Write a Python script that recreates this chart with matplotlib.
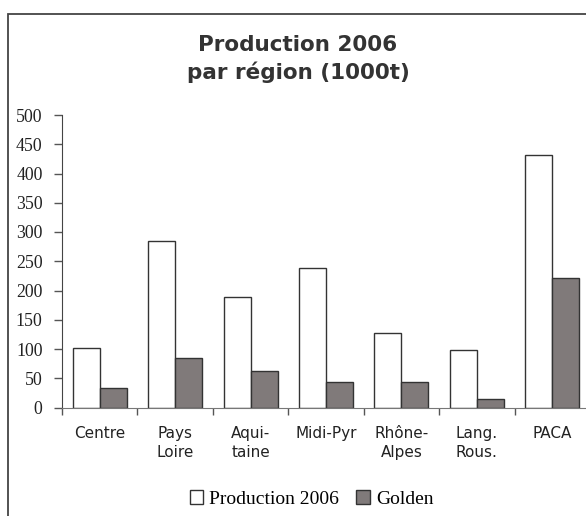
import matplotlib
matplotlib.use("Agg")
import matplotlib.pyplot as plt
import numpy as np
from matplotlib.patches import Rectangle

regions = ["Centre", "Pays\nLoire", "Aqui-\ntaine", "Midi-Pyr", "Rhône-\nAlpes", "Lang.\nRous.", "PACA"]
production = [101, 284, 189, 238, 127, 98, 431]
golden = [34, 84, 63, 44, 44, 15, 221]
yticks = [0, 50, 100, 150, 200, 250, 300, 350, 400, 450, 500]

fig = plt.figure(figsize=(5.86, 5.16), dpi=100)
ax = fig.add_axes([62 / 586, (516 - 407.5) / 516, 528 / 586, 292.5 / 516])

x = np.arange(len(regions))
w = 0.358
ax.bar(x - w / 2, production, w, color="white", edgecolor="#333333", linewidth=1.0, label="Production 2006")
ax.bar(x + w / 2, golden, w, color="#807a7a", edgecolor="#333333", linewidth=1.0, label="Golden")

ax.set_xlim(-0.5, len(regions) - 0.5)
ax.set_ylim(0, 500)
ax.set_yticks(yticks)
ax.set_yticklabels([str(v) for v in yticks], family="Liberation Serif", fontsize=12.8, color="#222222")
ax.tick_params(axis="y", direction="out", length=6, width=1, color="#555555", pad=8)

ax.set_xticks(x)
ax.set_xticklabels(regions, family="DejaVu Sans", fontsize=11, color="#222222", linespacing=1.4)
ax.tick_params(axis="x", which="major", length=0, pad=13)
ax.set_xticks(np.arange(-0.5, len(regions) - 0.5, 1), minor=True)
ax.tick_params(axis="x", which="minor", direction="out", length=5, width=1, color="#555555")

for s in ["top", "right"]:
    ax.spines[s].set_visible(False)
ax.spines["left"].set_color("#444444")
ax.spines["bottom"].set_color("#777777")

fig.text(0.5085, 0.8857, "Production 2006\npar région (1000t)", ha="center", va="center",
         fontsize=15.5, fontweight="bold", family="DejaVu Sans", color="#333333", linespacing=1.4)

leg = fig.legend(loc="center", bbox_to_anchor=(311.5 / 586, (516 - 499) / 516), ncol=2, frameon=False,
                 prop={"family": "Liberation Serif", "size": 14}, handlelength=0.7, handleheight=0.7,
                 handletextpad=0.3, columnspacing=0.9)

fig.patches.append(Rectangle((8 / 586, -0.2), 1.2, (516 - 14) / 516 + 0.2, transform=fig.transFigure,
                             fill=False, edgecolor="#444444", linewidth=1.3))

fig.savefig("out.png", dpi=100)
